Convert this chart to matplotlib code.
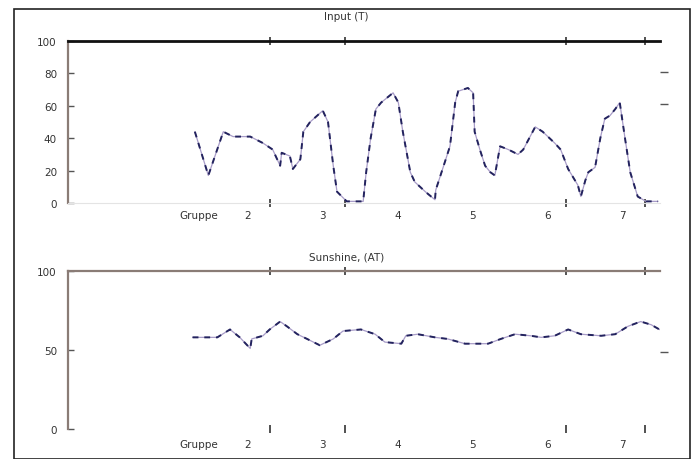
import matplotlib
matplotlib.use("Agg")
import matplotlib.pyplot as plt
from matplotlib.patches import Rectangle

# ---- data (x in group units) ----
top_x = [1.29, 1.47, 1.67, 1.80, 2.03, 2.20, 2.33, 2.43, 2.45, 2.56, 2.60, 2.70, 2.74, 2.83,
         3.00, 3.07, 3.14, 3.19, 3.32, 3.54, 3.58, 3.64, 3.71, 3.78, 3.94, 4.01, 4.07, 4.17,
         4.23, 4.37, 4.50, 4.51, 4.63, 4.70, 4.77, 4.81, 4.94, 5.01, 5.03, 5.10, 5.17, 5.24,
         5.30, 5.37, 5.48, 5.61, 5.68, 5.84, 5.94, 6.10, 6.18, 6.28, 6.41, 6.45, 6.51, 6.55,
         6.64, 6.71, 6.77, 6.84, 6.91, 6.97, 7.04, 7.11, 7.21, 7.32, 7.48]
top_y = [44, 17, 44, 41, 41, 37, 33, 23, 31, 29, 21, 27, 44, 50,
         57, 50, 23, 7, 1, 1, 19, 40, 58, 62, 68, 62, 44, 19,
         13, 7, 2, 8, 25, 35, 62, 69, 71, 68, 44, 33, 23, 19,
         17, 35, 33, 30, 33, 47, 44, 37, 33, 21, 11, 4, 14, 19,
         22, 40, 52, 54, 58, 62, 40, 19, 4, 1, 1]

bot_x = [1.26, 1.59, 1.76, 1.89, 2.03, 2.05, 2.20, 2.29, 2.43, 2.52, 2.66, 2.79, 2.96, 3.14,
         3.27, 3.51, 3.70, 3.83, 4.05, 4.11, 4.27, 4.50, 4.67, 4.90, 5.21, 5.38, 5.57, 5.78,
         5.92, 6.10, 6.28, 6.45, 6.72, 6.91, 7.08, 7.25, 7.39, 7.50]
bot_y = [58, 58, 63, 58, 51, 57, 59, 63, 68, 65, 60, 57, 53, 57,
         62, 63, 60, 55, 54, 59, 60, 58, 57, 54, 54, 57, 60, 59,
         58, 59, 63, 60, 59, 60, 65, 68, 66, 63]

group_ticks = [2, 3, 4, 5, 6, 7]
group_labels = ["2", "3", "4", "5", "6", "7"]
minor_ticks = [2.29, 3.30, 6.25, 7.31]
top_yticks = [0, 20, 40, 60, 80, 100]
bot_yticks = [0, 50, 100]
top_title = "Input (T)"
bot_title = "Sunshine, (AT)"
group_word = "Gruppe"

W, H = 698, 460
fig = plt.figure(figsize=(W / 100, H / 100), dpi=100)
fig.patch.set_facecolor("white")
fig.patches.append(Rectangle((14 / W, 0), (690 - 14) / W, 1 - 10 / H, transform=fig.transFigure,
                             fill=False, edgecolor="#222222", linewidth=1.2))

XL = (-0.406, 7.508)
spine_col = "#8a7c76"
text_col = "#333333"
fs = 7.5


def panel(rect, xs, ys, yticks, ylim, title, title_y, top_lw, top_col, right_marks, pad):
    ax = fig.add_axes(rect)
    ax.set_xlim(*XL)
    ax.set_ylim(*ylim)
    ax.plot(xs, ys, color="#a89cc8", linewidth=0.9, zorder=2)
    ax.plot(xs, ys, color="#23235e", linewidth=1.4, linestyle=(0, (3, 3)), zorder=3)
    ax.spines["right"].set_visible(False)
    ax.spines["left"].set_color(spine_col)
    ax.spines["left"].set_linewidth(1.6)
    ax.spines["top"].set_color(top_col)
    ax.spines["top"].set_linewidth(top_lw)
    ax.spines["bottom"].set_color("#e4e4e4")
    ax.spines["bottom"].set_linewidth(0.8)
    ax.set_yticks(yticks)
    ax.set_yticklabels([str(v) for v in yticks], fontsize=fs, color=text_col)
    ax.tick_params(axis="y", direction="in", length=4, width=1, color="#555555", pad=8)
    ax.set_xticks(group_ticks)
    ax.set_xticklabels(group_labels, fontsize=fs, color=text_col)
    ax.tick_params(axis="x", which="major", length=0, pad=pad)
    ax.set_xticks(minor_ticks, minor=True)
    ax.tick_params(axis="x", which="minor", direction="inout", length=6, width=1.2,
                   color="#333333", top=True, bottom=True)
    ax.annotate(group_word, xy=(1.34, 0), xycoords=ax.get_xaxis_transform(),
                xytext=(0, -pad * 100 / 72), textcoords="offset pixels",
                fontsize=fs, color=text_col, ha="center", va="top")
    fig.text(0.5 * (rect[0] * 2 + rect[2]) - 0.025, title_y, title, fontsize=fs,
             color=text_col, ha="center", va="center")
    tw = ax.twinx()
    tw.set_ylim(*ylim)
    for s in tw.spines.values():
        s.set_visible(False)
    tw.set_yticks(right_marks)
    tw.set_yticklabels([])
    tw.tick_params(axis="y", direction="out", length=6, width=1, color="#555555")
    return ax


L = 68 / W
R = 660 / W
panel([L, 1 - 204 / H, R - L, (204 - 42) / H], top_x, top_y, top_yticks, (0, 100),
      top_title, 1 - 17 / H, 2.0, "#111111", [61, 81], 5)
ax2 = panel([L, 1 - 430 / H, R - L, (430 - 272) / H], bot_x, bot_y, bot_yticks, (0, 100),
            bot_title, 1 - 257 / H, 1.6, spine_col, [49], 7)
ax2.spines["bottom"].set_visible(False)

fig.savefig("out.png", dpi=100, facecolor="white")
